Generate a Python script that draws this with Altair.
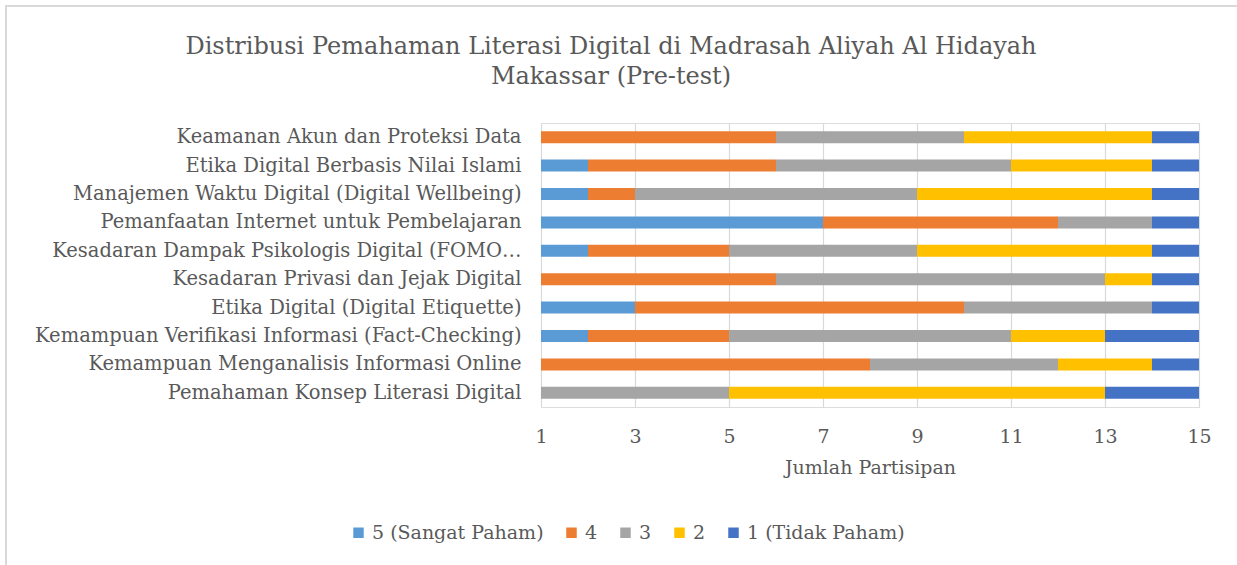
import altair as alt
import pandas as pd

categories = [
    "Keamanan Akun dan Proteksi Data",
    "Etika Digital Berbasis Nilai Islami",
    "Manajemen Waktu Digital (Digital Wellbeing)",
    "Pemanfaatan Internet untuk Pembelajaran",
    "Kesadaran Dampak Psikologis Digital (FOMO…",
    "Kesadaran Privasi dan Jejak Digital",
    "Etika Digital (Digital Etiquette)",
    "Kemampuan Verifikasi Informasi (Fact-Checking)",
    "Kemampuan Menganalisis Informasi Online",
    "Pemahaman Konsep Literasi Digital",
]
series = ["5 (Sangat Paham)", "4", "3", "2", "1 (Tidak Paham)"]
colors = ["#5B9BD5", "#ED7D31", "#A5A5A5", "#FFC000", "#4472C4"]

s5 = [0, 2, 2, 7, 2, 0, 3, 2, 0, 0]
s4 = [6, 4, 1, 5, 3, 6, 7, 3, 8, 0]
s3 = [4, 5, 6, 2, 4, 7, 4, 6, 4, 5]
s2 = [4, 3, 5, 0, 5, 1, 0, 2, 2, 8]
s1 = [1, 1, 1, 1, 1, 1, 1, 2, 1, 2]
x_ticks = [1, 3, 5, 7, 9, 11, 13, 15]

rows = []
for vals, name, rank in zip([s5, s4, s3, s2, s1], series, range(5)):
    for c, v in zip(categories, vals):
        rows.append({"Kategori": c, "Tingkat": name, "Jumlah": v, "rank": rank})
df = pd.DataFrame(rows)

FONT = "DejaVu Serif"
TXT = "#595959"

bars = alt.Chart(df).mark_bar(clip=True, size=12).encode(
    y=alt.Y("Kategori:N", sort=categories, title=None,
            axis=alt.Axis(labelFontSize=19.5, labelColor=TXT, labelFont=FONT,
                          labelPadding=20, ticks=False, domain=False,
                          grid=False, labelLimit=520)),
    x=alt.X("Jumlah:Q", stack="zero",
            scale=alt.Scale(domain=[1, 15], nice=False, zero=False),
            title="Jumlah Partisipan",
            axis=alt.Axis(values=x_ticks, labelFontSize=19, labelColor=TXT,
                          labelFont=FONT, titleFont=FONT, titleFontSize=19,
                          titleColor=TXT, titleFontWeight="normal",
                          titlePadding=12, labelPadding=20, ticks=False,
                          labelFlush=False,
                          domain=False, grid=True, gridColor="#D9D9D9",
                          gridWidth=1.2)),
    color=alt.Color("Tingkat:N", sort=series,
                    scale=alt.Scale(domain=series, range=colors),
                    legend=alt.Legend(title=None, orient="none", direction="horizontal",
                                      legendX=-192, legendY=400,
                                      symbolType="square", symbolSize=110,
                                      symbolStrokeWidth=0, labelLimit=400,
                                      labelFontSize=19, labelFont=FONT,
                                      labelColor=TXT, columnPadding=18,
                                      labelOffset=4)),
    order=alt.Order("rank:Q", sort="ascending"),
)

frame = alt.Chart(df).mark_rect(fill=None, stroke="#D9D9D9", strokeWidth=1.5).encode(
    x=alt.value(-535), x2=alt.value(720), y=alt.value(-117), y2=alt.value(470)
)

chart = alt.layer(frame, bars).properties(
    width=658, height=284,
    autosize=alt.AutoSizeParams(type="none"),
    padding={"left": 541, "top": 123, "right": 38, "bottom": 158},
    title=alt.TitleParams(
        ["Distribusi Pemahaman Literasi Digital di Madrasah Aliyah Al Hidayah",
         "Makassar (Pre-test)"],
        font=FONT, fontSize=24, fontWeight="normal", color=TXT,
        anchor="middle", frame="group", dx=-259, offset=0, dy=84, lineHeight=30),
).configure_view(stroke=None).configure(background="white")

chart.save("out.html", embed_options={"renderer": "svg", "actions": False})
